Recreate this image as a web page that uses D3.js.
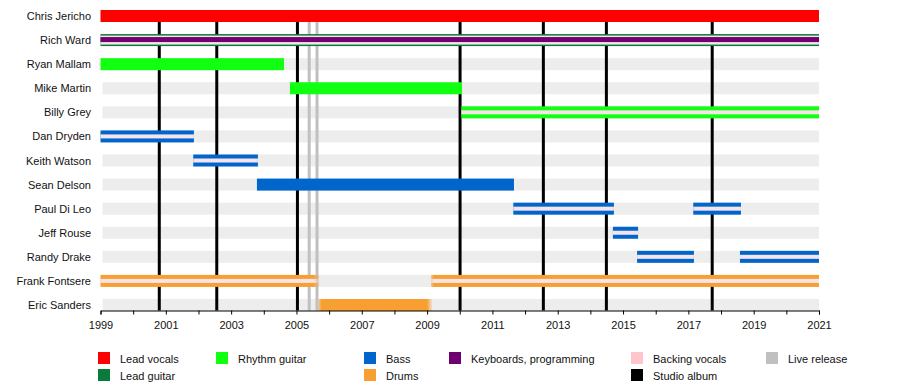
<!DOCTYPE html>
<html><head><meta charset="utf-8">
<script src="https://cdn.jsdelivr.net/npm/d3@7"></script>
<style>body{margin:0;background:#fff}svg{display:block}text{font-family:"Liberation Sans",Arial,sans-serif;fill:#111}</style>
</head><body><svg id="c" width="900" height="390"></svg>
<script>
const members = ["Chris Jericho","Rich Ward","Ryan Mallam","Mike Martin","Billy Grey","Dan Dryden","Keith Watson","Sean Delson","Paul Di Leo","Jeff Rouse","Randy Drake","Frank Fontsere","Eric Sanders"];
const roleNames = ["Lead vocals","Lead guitar","Rhythm guitar","Bass","Drums","Keyboards, programming","Backing vocals","Studio album","Live release"];
const roleColors = ["#ff0000","#0b7b3b","#11ff11","#0066cc","#f7a031","#700070","#ffc4cc","#000000","#c0c0c0"];
// main role spans: member, role, start, end
const mainSpans = [
  ["Chris Jericho","Lead vocals",1999,2021],
  ["Rich Ward","Lead guitar",1999,2021],
  ["Ryan Mallam","Rhythm guitar",1999,2004.62],
  ["Mike Martin","Rhythm guitar",2004.80,2010.07],
  ["Billy Grey","Rhythm guitar",2010.05,2021],
  ["Dan Dryden","Bass",1999,2001.86],
  ["Keith Watson","Bass",2001.84,2003.82],
  ["Sean Delson","Bass",2003.79,2011.66],
  ["Paul Di Leo","Bass",2011.64,2014.72],
  ["Paul Di Leo","Bass",2017.15,2018.61],
  ["Jeff Rouse","Bass",2014.69,2015.46],
  ["Randy Drake","Bass",2015.43,2017.17],
  ["Randy Drake","Bass",2018.58,2021],
  ["Frank Fontsere","Drums",1999,2005.69],
  ["Frank Fontsere","Drums",2009.12,2021],
  ["Eric Sanders","Drums",2005.68,2009.15]
];
// secondary role spans drawn inside the main bars
const extraSpans = [
  ["Rich Ward","Backing vocals",1999,2021],
  ["Rich Ward","Keyboards, programming",1999,2021],
  ["Billy Grey","Backing vocals",2010.05,2021],
  ["Dan Dryden","Backing vocals",1999,2001.86],
  ["Keith Watson","Backing vocals",2001.84,2003.82],
  ["Paul Di Leo","Backing vocals",2011.64,2014.72],
  ["Paul Di Leo","Backing vocals",2017.15,2018.61],
  ["Jeff Rouse","Backing vocals",2014.69,2015.46],
  ["Randy Drake","Backing vocals",2015.43,2017.17],
  ["Randy Drake","Backing vocals",2018.58,2021],
  ["Frank Fontsere","Backing vocals",1999,2005.69],
  ["Frank Fontsere","Backing vocals",2009.12,2021]
];
const studioAlbums = [2000.80,2002.56,2005.03,2010.01,2012.56,2014.49,2017.73];
const liveReleases = [2005.39,2005.63];
const tickYears = [1999,2000,2001,2002,2003,2004,2005,2006,2007,2008,2009,2010,2011,2012,2013,2014,2015,2016,2017,2018,2019,2020,2021];
const labelYears = [1999,2001,2003,2005,2007,2009,2011,2013,2015,2017,2019,2021];

const svg = d3.select("#c");
const defs = svg.append("defs");
const x = d3.scaleLinear().domain([1999,2021]).range([100.5,819]);
const y = d3.scalePoint().domain(members).range([16,305]);
const color = d3.scaleOrdinal().domain(roleNames).range(roleColors);
const barH = 12;
const paleStripe = "#f7e4ea";

// background stripes
svg.append("g").selectAll("rect").data(members).join("rect")
  .attr("x", x(1999)+2).attr("width", x(2021)-x(1999)-2)
  .attr("y", d=>y(d)-barH/2).attr("height", barH)
  .attr("fill", "#ededed");

const lineTop = y("Chris Jericho")+barH/2, lineBot = 310.5;
svg.append("g").selectAll("line").data(liveReleases).join("line")
  .attr("x1",d=>x(d)).attr("x2",d=>x(d)).attr("y1",lineTop).attr("y2",lineBot)
  .attr("stroke",color("Live release")).attr("stroke-width",3);
svg.append("g").selectAll("line").data(studioAlbums).join("line")
  .attr("x1",d=>x(d)).attr("x2",d=>x(d)).attr("y1",lineTop).attr("y2",lineBot)
  .attr("stroke",color("Studio album")).attr("stroke-width",3);

// soft edges for drum bars that start/end mid-chart (as in the reference)
function fillFor(d, col, idx, kind){
  if (d[1]!=="Drums" && !(kind==="s" && (d[0]==="Frank Fontsere"))) return col;
  const id = "g"+kind+idx;
  const g = defs.append("linearGradient").attr("id",id).attr("gradientUnits","userSpaceOnUse")
    .attr("x1",x(d[2])).attr("x2",x(d[3])).attr("y1",0).attr("y2",0);
  const w = x(d[3])-x(d[2]);
  const fs = d[2]>1999 ? 3/w : 0, fe = d[3]<2021 ? 5/w : 0;
  g.append("stop").attr("offset",0).attr("stop-color",col).attr("stop-opacity",fs>0?0.5:1);
  g.append("stop").attr("offset",fs).attr("stop-color",col).attr("stop-opacity",1);
  g.append("stop").attr("offset",1-fe).attr("stop-color",col).attr("stop-opacity",1);
  g.append("stop").attr("offset",1).attr("stop-color",col).attr("stop-opacity",fe>0?0.15:1);
  return `url(#${id})`;
}

// main bars
svg.append("g").selectAll("rect").data(mainSpans).join("rect")
  .attr("x",d=>x(d[2])).attr("width",d=>x(d[3])-x(d[2]))
  .attr("y",d=>y(d[0])-barH/2).attr("height",barH)
  .attr("fill",(d,i)=>fillFor(d,color(d[1]),i,"m"));

// secondary stripes
function stripeGeom(d){
  const c = y(d[0]);
  if (d[0]==="Rich Ward" && d[1]==="Backing vocals") return [c-4.5,9];
  if (d[0]==="Rich Ward" && d[1]==="Keyboards, programming") return [c-3,5];
  return [c-2,4];
}
svg.append("g").selectAll("rect").data(extraSpans).join("rect")
  .attr("x",d=>x(d[2])).attr("width",d=>x(d[3])-x(d[2]))
  .attr("y",d=>stripeGeom(d)[0]).attr("height",d=>stripeGeom(d)[1])
  .attr("fill",(d,i)=>fillFor(d, d[1]==="Backing vocals" ? paleStripe : color(d[1]), i, "s"));

// member labels
svg.append("g").selectAll("text").data(members).join("text")
  .attr("x",91).attr("y",d=>y(d)+4).attr("text-anchor","end")
  .attr("font-size",11).text(d=>d);

// axis
const axis = d3.axisBottom(x).tickValues(tickYears).tickSize(4)
  .tickFormat(d=> labelYears.includes(d) ? String(d) : "");
const ag = svg.append("g").attr("transform","translate(0,310.5)").call(axis);
ag.select(".domain").attr("stroke","#000");
ag.selectAll(".tick line").attr("stroke","#000");
ag.selectAll(".tick text").attr("font-size",11).attr("dy","1em")
  .attr("font-family","'Liberation Sans',Arial,sans-serif").attr("fill","#111");

// legend
const legendItems = [
  ["Lead vocals",0,0],["Lead guitar",0,1],["Rhythm guitar",1,0],["Bass",2,0],["Drums",2,1],
  ["Keyboards, programming",3,0],["Backing vocals",4,0],["Studio album",4,1],["Live release",5,0]
];
const colX = [98,216,364,449,631,766];
const lg = svg.append("g").selectAll("g").data(legendItems).join("g")
  .attr("transform",d=>`translate(${colX[d[1]]},${352+d[2]*17})`);
lg.append("rect").attr("width",12).attr("height",12).attr("fill",d=>color(d[0]));
lg.append("text").attr("x",22).attr("y",10.5).attr("font-size",11).text(d=>d[0]);
</script></body></html>
